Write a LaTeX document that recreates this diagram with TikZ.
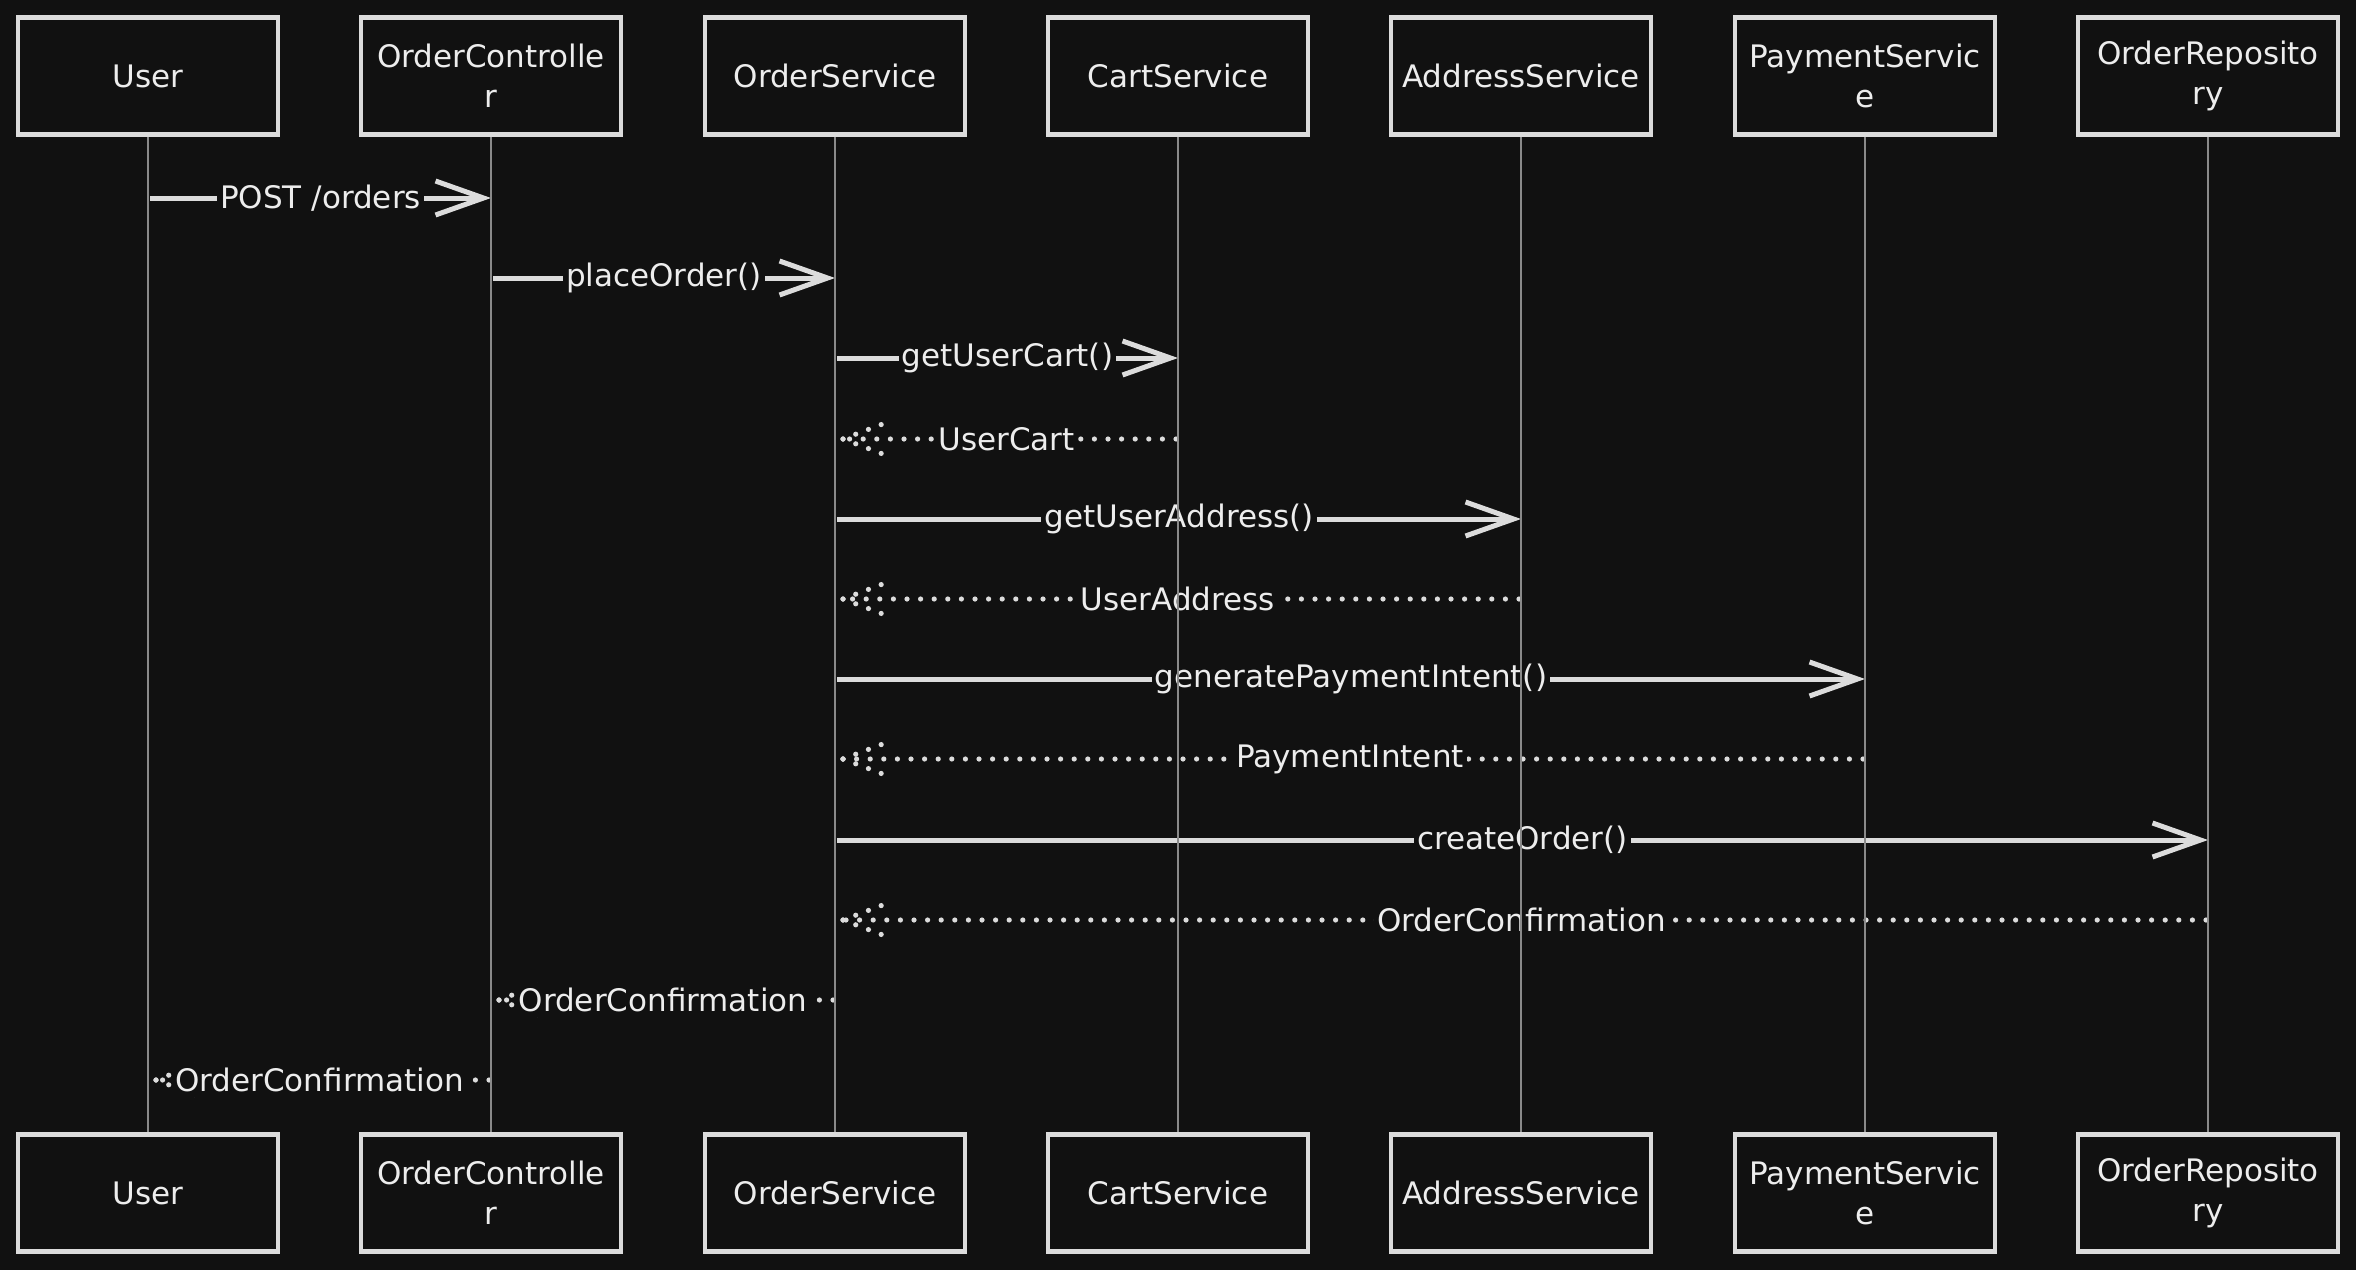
\documentclass[tikz,border=0pt]{standalone}
\usepackage{fontspec}
\setmainfont{DejaVu Sans}
\usetikzlibrary{arrows.meta,calc}
\definecolor{bgc}{HTML}{111111}
\definecolor{ink}{HTML}{DCDCDC}
\definecolor{txt}{HTML}{EDEDED}
\definecolor{lifec}{HTML}{8A8A8A}
\begin{document}
\begin{tikzpicture}[x=0.5pt,y=-0.5pt,
  actor/.style={draw=ink,line width=2.3pt,fill=bgc,minimum width=130pt,minimum height=58.5pt,
    text=txt,font=\fontsize{15.5}{20}\selectfont,align=center,inner sep=0pt},
  life/.style={draw=lifec,line width=0.8pt},
  callmsg/.style={draw=ink,line width=2.5pt,-{Straight Barb[length=24pt,width=17pt]}},
  retdots/.style={draw=ink,line width=2.6pt,line cap=round,dash pattern=on 0pt off 6.8pt},
  lbl/.style={fill=bgc,text=txt,font=\fontsize{15.5}{18}\selectfont,inner xsep=1.5pt,inner ysep=2.5pt},
  pics/dotchev/.style={code={
    \draw[retdots] (0,0) -- (45,-17);
    \draw[retdots] (0,0) -- (45,17);}}
]
% background / bounding box
\fill[bgc] (0,0) rectangle (2356,1270);

% actors (top)
\node[actor] (uT) at (148,76)  {User};
\node[actor] (cT) at (491,76)  {OrderControlle\\r};
\node[actor] (sT) at (835,76)  {OrderService};
\node[actor] (kT) at (1178,76) {CartService};
\node[actor] (aT) at (1521,76) {AddressService};
\node[actor] (pT) at (1865,76) {PaymentServic\\e};
\node[actor] (rT) at (2208,76) {OrderReposito\\ry};
% actors (bottom)
\node[actor] (uB) at (148,1193)  {User};
\node[actor] (cB) at (491,1193)  {OrderControlle\\r};
\node[actor] (sB) at (835,1193)  {OrderService};
\node[actor] (kB) at (1178,1193) {CartService};
\node[actor] (aB) at (1521,1193) {AddressService};
\node[actor] (pB) at (1865,1193) {PaymentServic\\e};
\node[actor] (rB) at (2208,1193) {OrderReposito\\ry};

% message anchor points
\coordinate (u1) at (150,198);  \coordinate (c1) at (491,198);
\coordinate (c2) at (493,278);  \coordinate (s2) at (835,278);
\coordinate (s3) at (837,358);  \coordinate (k3) at (1178,358);
\coordinate (k4) at (1176,439); \coordinate (t4) at (843,439);
\coordinate (s5) at (837,519);  \coordinate (a5) at (1521,519);
\coordinate (a6) at (1519,599); \coordinate (t6) at (843,599);
\coordinate (s7) at (837,679);  \coordinate (p7) at (1865,679);
\coordinate (p8) at (1863,759); \coordinate (t8) at (843,759);
\coordinate (s9) at (837,840);  \coordinate (r9) at (2208,840);
\coordinate (r10) at (2206,920); \coordinate (t10) at (843,920);
\coordinate (s11) at (833,1000); \coordinate (t11) at (499,1000);
\coordinate (c12) at (489,1080); \coordinate (t12) at (156,1080);

% calls
\draw[callmsg] (u1) -- (c1);
\draw[callmsg] (c2) -- (s2);
\draw[callmsg] (s3) -- (k3);
\draw[callmsg] (s5) -- (a5);
\draw[callmsg] (s7) -- (p7);
\draw[callmsg] (s9) -- (r9);

% returns
\draw[retdots] (k4) -- (t4);   \pic at (t4) {dotchev};
\draw[retdots] (a6) -- (t6);   \pic at (t6) {dotchev};
\draw[retdots] (p8) -- (t8);   \pic at (t8) {dotchev};
\draw[retdots] (r10) -- (t10); \pic at (t10) {dotchev};
\draw[retdots] (s11) -- (t11); \pic at (t11) {dotchev};
\draw[retdots] (c12) -- (t12); \pic at (t12) {dotchev};

% labels
\node[lbl] (l1)  at ($(u1)!0.5!(c1)$)  {POST /orders};
\node[lbl] (l2)  at ($(c2)!0.5!(s2)$)  {placeOrder()};
\node[lbl] (l3)  at ($(s3)!0.5!(k3)$)  {getUserCart()};
\node[lbl] (l4)  at ($(k4)!0.5!(s3|-k4)$) {UserCart};
\node[lbl] (l5)  at ($(s5)!0.5!(a5)$)  {getUserAddress()};
\node[lbl] (l6)  at ($(a6)!0.5!(s5|-a6)$) {UserAddress};
\node[lbl] (l7)  at ($(s7)!0.5!(p7)$)  {generatePaymentIntent()};
\node[lbl] (l8)  at ($(p8)!0.5!(s7|-p8)$) {PaymentIntent};
\node[lbl] (l9)  at ($(s9)!0.5!(r9)$)  {createOrder()};
\node[lbl] (l10) at ($(r10)!0.5!(s9|-r10)$) {OrderConfirmation};
\node[lbl] (l11) at ($(s11)!0.5!(c2|-s11)$) {OrderConfirmation};
\node[lbl] (l12) at ($(c12)!0.5!(u1|-c12)$) {OrderConfirmation};

% lifelines (on top of labels, as in the reference)
\draw[life] (uT.south) -- (uB.north);
\draw[life] (cT.south) -- (cB.north);
\draw[life] (sT.south) -- (sB.north);
\draw[life] (kT.south) -- (kB.north);
\draw[life] (aT.south) -- (aB.north);
\draw[life] (pT.south) -- (pB.north);
\draw[life] (rT.south) -- (rB.north);
\end{tikzpicture}
\end{document}
